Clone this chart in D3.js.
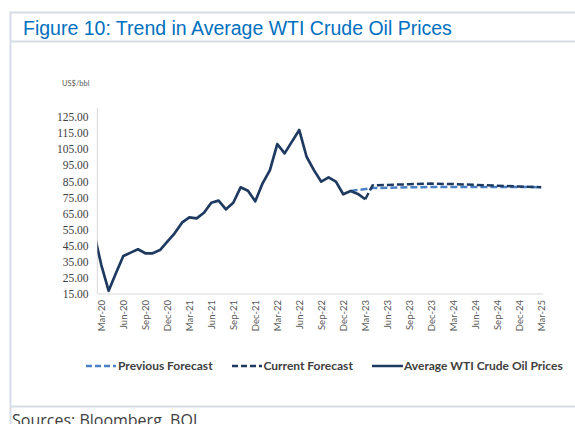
<!DOCTYPE html>
<html>
<head>
<meta charset="utf-8">
<script src="https://cdn.jsdelivr.net/npm/d3@7"></script>
<style>
  html, body { margin: 0; padding: 0; background: #fff; }
  svg { display: block; }
</style>
</head>
<body>
<svg id="chart" width="575" height="424"></svg>
<script>
// ---- Data ----
const months = ["Feb-20","Mar-20","Apr-20","May-20","Jun-20","Jul-20","Aug-20","Sep-20","Oct-20","Nov-20","Dec-20",
  "Jan-21","Feb-21","Mar-21","Apr-21","May-21","Jun-21","Jul-21","Aug-21","Sep-21","Oct-21","Nov-21","Dec-21",
  "Jan-22","Feb-22","Mar-22","Apr-22","May-22","Jun-22","Jul-22","Aug-22","Sep-22","Oct-22","Nov-22","Dec-22",
  "Jan-23","Feb-23","Mar-23"];
const actualValues = [53, 33, 17, 28, 38.6, 40.7, 42.8, 40.3, 40.3, 42.3, 47.5,
  52.7, 59.3, 62.6, 62, 65.5, 71.7, 73, 67.6, 71.7, 81.3, 79.2, 72.6,
  83.8, 92, 108.2, 102.4, 109.7, 116.9, 100.3, 92, 84.8, 87.5, 84.8, 77,
  79, 77.2, 73.9];

const currentMonths = ["Mar-23","Apr-23","Jun-23","Sep-23","Dec-23","Mar-24","Jun-24","Sep-24","Dec-24","Mar-25"];
const currentValues = [73.9, 82.5, 82.8, 83.2, 83.6, 83.3, 82.8, 82.3, 81.8, 81.4];

const previousMonths = ["Jan-23","Apr-23","Jun-23","Sep-23","Dec-23","Mar-24","Jun-24","Sep-24","Dec-24","Mar-25"];
const previousValues = [79, 80.8, 81, 81.3, 81.5, 81.5, 81.5, 81.5, 81.5, 81.4];

const xTickLabels = ["Mar-20","Jun-20","Sep-20","Dec-20","Mar-21","Jun-21","Sep-21","Dec-21","Mar-22","Jun-22","Sep-22",
  "Dec-22","Mar-23","Jun-23","Sep-23","Dec-23","Mar-24","Jun-24","Sep-24","Dec-24","Mar-25"];
const yTickValues = [15, 25, 35, 45, 55, 65, 75, 85, 95, 105, 115, 125];

const legendLabels = ["Previous Forecast", "Current Forecast", "Average WTI Crude Oil Prices"];
const titleText = "Figure 10: Trend in Average WTI Crude Oil Prices";
const unitText = "US$/bbl";
const sourceText = "Sources: Bloomberg, BOJ";

// ---- helpers ----
const monNames = ["Jan","Feb","Mar","Apr","May","Jun","Jul","Aug","Sep","Oct","Nov","Dec"];
function monthIndex(lbl) { // months since Mar-20
  const [m, y] = lbl.split("-");
  return (2000 + (+y) - 2020) * 12 + monNames.indexOf(m) - 2;
}

const svg = d3.select("#chart");
const C = { frame: "#d5dce6", dark: "#1f3a60", light: "#4a80c4", text: "#404040" };

// frame / title box
svg.append("line").attr("x1", 10).attr("x2", 575).attr("y1", 12.5).attr("y2", 12.5).attr("stroke", C.frame).attr("stroke-width", 2);
svg.append("line").attr("x1", 10).attr("x2", 575).attr("y1", 41.5).attr("y2", 41.5).attr("stroke", C.frame).attr("stroke-width", 2);
svg.append("line").attr("x1", 10.5).attr("x2", 10.5).attr("y1", 12).attr("y2", 424).attr("stroke", C.frame).attr("stroke-width", 2);
svg.append("line").attr("x1", 10).attr("x2", 575).attr("y1", 406.5).attr("y2", 406.5).attr("stroke", C.frame).attr("stroke-width", 2);

svg.append("text").attr("x", 23).attr("y", 35)
  .attr("font-family", "Liberation Sans, Arial, sans-serif").attr("font-size", 19.5)
  .attr("fill", "#0070c0").text(titleText);

svg.append("text").attr("x", 12).attr("y", 426)
  .attr("font-family", "Open Sans, sans-serif").attr("font-size", 16)
  .attr("fill", C.text).text(sourceText);

// ---- scales ----
const x = d3.scaleLinear().domain([-0.55, 60.25]).range([97.3, 543]);
const y = d3.scaleLinear().domain([15, 125]).range([294, 117]);

// axes lines
svg.append("line").attr("x1", 97.3).attr("x2", 543).attr("y1", y(15)).attr("y2", y(15)).attr("stroke", "#d9d9d9");
svg.append("line").attr("x1", 97.3).attr("x2", 97.3).attr("y1", 108).attr("y2", y(15)).attr("stroke", "#d9d9d9");

// y axis
const yAxis = d3.axisLeft(y).tickValues(yTickValues).tickFormat(d3.format(".2f")).tickSize(0).tickPadding(0);
const yg = svg.append("g").attr("transform", "translate(88.5,0)").call(yAxis);
yg.select(".domain").remove();
yg.selectAll("text").attr("font-family", "Liberation Serif, serif").attr("font-size", 11.5).attr("fill", C.text);

svg.append("text").attr("x", 62).attr("y", 86)
  .attr("font-family", "Lato, sans-serif").attr("font-size", 7.5).attr("fill", "#595959").text(unitText);

// x axis
const xAxis = d3.axisBottom(x).tickValues(xTickLabels.map(monthIndex))
  .tickFormat((d, i) => xTickLabels[i]).tickSize(0).tickPadding(0);
const xg = svg.append("g").attr("transform", "translate(0,300)").call(xAxis);
xg.select(".domain").remove();
xg.selectAll("text")
  .attr("font-family", "Lato, sans-serif").attr("font-size", 9.5).attr("fill", "#595959")
  .attr("text-anchor", "end").attr("transform", "rotate(-90)")
  .attr("x", 0).attr("y", 0).attr("dy", "0.35em");

// clip to plot area
svg.append("clipPath").attr("id", "plot").append("rect")
  .attr("x", 97.3).attr("y", 100).attr("width", 447).attr("height", 200);

const line = d3.line().x(d => x(d.i)).y(d => y(d.v)).curve(d3.curveLinear);
const plot = svg.append("g").attr("clip-path", "url(#plot)");

const prevData = previousMonths.map((m, k) => ({ i: monthIndex(m), v: previousValues[k] }));
const curData = currentMonths.map((m, k) => ({ i: monthIndex(m), v: currentValues[k] }));
const actData = months.map((m, k) => ({ i: monthIndex(m), v: actualValues[k] }));

plot.append("path").datum(prevData).attr("d", line).attr("fill", "none")
  .attr("stroke", C.light).attr("stroke-width", 2.5).attr("stroke-dasharray", "7,3");
plot.append("path").datum(curData).attr("d", line).attr("fill", "none")
  .attr("stroke", C.dark).attr("stroke-width", 2.5).attr("stroke-dasharray", "7,3");
plot.append("path").datum(actData).attr("d", line).attr("fill", "none")
  .attr("stroke", C.dark).attr("stroke-width", 2.7).attr("stroke-linejoin", "round");

// legend
const legY = 366;
const legItems = [
  { x1: 86, x2: 116, tx: 118, color: C.light, dash: "6,3" },
  { x1: 232, x2: 262, tx: 263.5, color: C.dark, dash: "6,3" },
  { x1: 372, x2: 403, tx: 404, color: C.dark, dash: null }
];
legItems.forEach((it, k) => {
  const l = svg.append("line").attr("x1", it.x1).attr("x2", it.x2).attr("y1", legY).attr("y2", legY)
    .attr("stroke", it.color).attr("stroke-width", 2.5);
  if (it.dash) l.attr("stroke-dasharray", it.dash);
  svg.append("text").attr("x", it.tx).attr("y", legY + 4)
    .attr("font-family", "Lato, sans-serif").attr("font-weight", "bold").attr("font-size", 12)
    .attr("fill", C.text).text(legendLabels[k]);
});
</script>
</body>
</html>
